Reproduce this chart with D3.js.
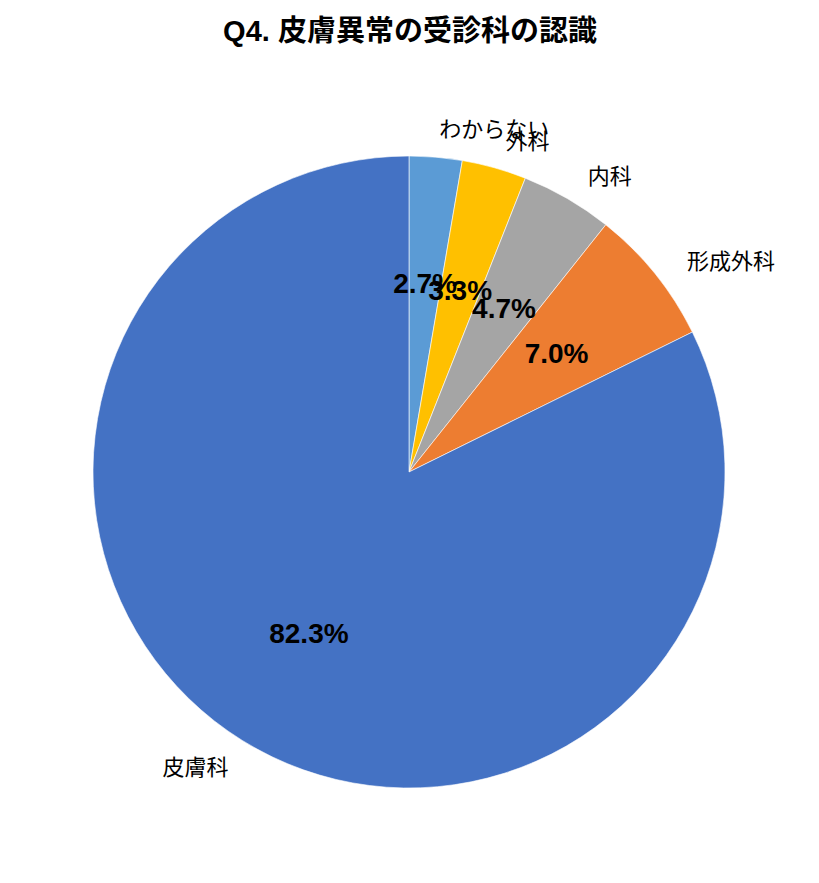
<!DOCTYPE html>
<html>
<head>
<meta charset="utf-8">
<script src="https://cdn.jsdelivr.net/npm/d3@7"></script>
<style>
  body { margin: 0; background: #fff; }
  text { font-family: "Liberation Sans", Arial, "Noto Sans CJK JP", sans-serif; }
</style>
</head>
<body>
<div id="chart"></div>
<script>
  "use strict";

  /* <!-- Data --> */
  var categories = ["わからない", "外科", "内科", "形成外科", "皮膚科"];
  var shares = [2.7, 3.3, 4.7, 7.0, 82.3];
  var colours = ["#5b9bd5", "#ffc000", "#a5a5a5", "#ed7d31", "#4472c4"];

  /* <!-- Layout --> */
  var width = 819, height = 883,
    cx = 409, cy = 472, radius = 316;

  var svg = d3.select("#chart").append("svg")
    .attr("width", width).attr("height", height);

  svg.append("text")
    .attr("x", 410).attr("y", 41)
    .attr("text-anchor", "middle")
    .style("font-size", "29px").style("font-weight", "bold")
    .text("Q4. 皮膚異常の受診科の認識");

  var g = svg.append("g").attr("transform", `translate(${cx},${cy})`);

  var _rows = categories.map((c, i) => ({ name: c, value: shares[i], colour: colours[i] }));

  var pie = d3.pie().value(d => d.value).sort(null);
  var arcs = pie(_rows);

  var arc = d3.arc().innerRadius(0).outerRadius(radius),
    inner = d3.arc().innerRadius(radius * 0.6).outerRadius(radius * 0.6),
    outer = d3.arc().innerRadius(radius * 1.13).outerRadius(radius * 1.13);

  g.selectAll("path.slice")
    .data(arcs)
    .enter().append("path")
    .attr("class", "slice")
    .attr("d", arc)
    .attr("fill", d => d.data.colour)
    .attr("stroke", "#ffffff")
    .attr("stroke-width", 0.6);

  /* <!-- Percentage labels --> */
  g.selectAll("text.pct")
    .data(arcs)
    .enter().append("text")
    .attr("class", "pct")
    .attr("transform", d => `translate(${inner.centroid(d)})`)
    .attr("text-anchor", "middle")
    .attr("dy", "0.36em")
    .style("font-size", "28px").style("font-weight", "bold").style("fill", "#000")
    .text(d => d3.format(".1f")(d.data.value) + "%");

  /* <!-- Category labels --> */
  var _mid = d => (d.startAngle + d.endAngle) / 2;
  g.selectAll("text.cat")
    .data(arcs)
    .enter().append("text")
    .attr("class", "cat")
    .attr("transform", d => {
      var p = outer.centroid(d), right = _mid(d) < Math.PI;
      return `translate(${p[0] + (right ? 0 : 8)},${p[1] + (right ? 13 : -8)})`;
    })
    .attr("text-anchor", d => _mid(d) < Math.PI ? "start" : "end")
    .attr("dy", "0.35em")
    .style("font-size", "22px").style("fill", "#000")
    .text(d => d.data.name);
</script>
</body>
</html>
